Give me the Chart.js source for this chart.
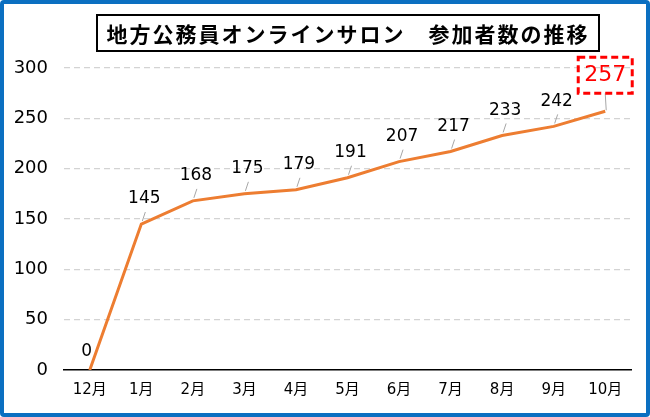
<!DOCTYPE html>
<html>
<head>
<meta charset="utf-8">
<script src="https://cdn.jsdelivr.net/npm/chart.js@4.4.1/dist/chart.umd.min.js"></script>
<style>
  html, body { margin: 0; padding: 0; background: #fff; }
  #frame {
    position: absolute; left: 0; top: 0;
    width: 642px; height: 409px;
    border: 4px solid #0b6fc1; border-radius: 4px;
    background: #fff;
  }
  #title {
    position: absolute; left: 92px; top: 10px;
    width: 500px; height: 34px;
    border: 2px solid #000;
    font: bold 21px "Noto Sans CJK JP", sans-serif;
    line-height: 34px; text-align: center; color: #000;
    letter-spacing: 2px; white-space: nowrap;
  }
  canvas { position: absolute; left: 0; top: 0; }
</style>
</head>
<body>
<div id="frame"><canvas id="lineChart" width="642" height="409"></canvas><div id="title">地方公務員オンラインサロン　参加者数の推移</div></div>
<script>
(function () {
    "use strict";

    // ---- data ----
    const months  = ["12月", "1月", "2月", "3月", "4月", "5月", "6月", "7月", "8月", "9月", "10月"];
    const members = [0, 145, 168, 175, 179, 191, 207, 217, 233, 242, 257];
    const yTicks  = [0, 50, 100, 150, 200, 250, 300];

    const COLORS = {
        line:   "#ed7d31",
        grid:   "#d3d3d3",
        leader: "#a6a6a6",
        text:   "#000000",
        hi:     "#ff0000",
    };
    const FONT = "'DejaVu Sans', 'Noto Sans CJK JP', sans-serif";

    // labels above each point, with a short gray leader line
    const labelPlugin = {
        id: "pointLabels",
        afterDatasetsDraw(chart) {
            const ctx = chart.ctx;
            const meta = chart.getDatasetMeta(0);
            const last = members.length - 1;
            ctx.save();
            ctx.textAlign = "center";
            ctx.textBaseline = "middle";
            meta.data.forEach((pt, i) => {
                const x = pt.x, y = pt.y;
                if (i === last) {
                    // highlighted last value
                    ctx.strokeStyle = COLORS.leader;
                    ctx.lineWidth = 1;
                    ctx.beginPath();
                    ctx.moveTo(x + 1, y - 1);
                    ctx.lineTo(x, y - 18);
                    ctx.stroke();
                    ctx.strokeStyle = COLORS.hi;
                    ctx.lineWidth = 3;
                    ctx.setLineDash([7, 4]);
                    ctx.strokeRect(x - 27, y - 54, 54, 36);
                    ctx.setLineDash([]);
                    ctx.fillStyle = COLORS.hi;
                    ctx.font = "22px " + FONT;
                    ctx.fillText(members[i], x, y - 36);
                    return;
                }
                ctx.fillStyle = COLORS.text;
                ctx.font = "17px " + FONT;
                if (i === 0) {
                    ctx.fillText(members[i], x - 3, y - 18);
                    return;
                }
                ctx.strokeStyle = COLORS.leader;
                ctx.lineWidth = 1;
                ctx.beginPath();
                ctx.moveTo(x + 1, y - 3);
                ctx.lineTo(x + 4, y - 12);
                ctx.stroke();
                ctx.fillText(members[i], x + 3, y - 25);
            });
            ctx.restore();
        },
    };

    new Chart(document.getElementById("lineChart"), {
        type: "line",
        data: {
            labels: months,
            datasets: [{
                data: members,
                borderColor: COLORS.line,
                borderWidth: 3,
                pointRadius: 0,
                tension: 0,
                fill: false,
            }],
        },
        options: {
            responsive: false,
            animation: false,
            layout: { padding: { top: 64, right: 15, left: 0, bottom: 3 } },
            plugins: { legend: { display: false }, tooltip: { enabled: false }, title: { display: false } },
            scales: {
                x: {
                    offset: true,
                    grid: { display: false, drawTicks: false },
                    border: { display: true, color: "#000", width: 1.5 },
                    ticks: { color: COLORS.text, font: { family: FONT, size: 15 }, padding: 11 },
                },
                y: {
                    min: 0, max: 300,
                    afterBuildTicks(axis) { axis.ticks = yTicks.map(v => ({ value: v })); },
                    afterFit(axis) { axis.width = 60; },
                    grid: {
                        color: (c) => c.tick && c.tick.value === 0 ? "rgba(0,0,0,0)" : COLORS.grid,
                        lineWidth: 1.2,
                        drawTicks: false,
                    },
                    border: { display: false, dash: [6, 4] },
                    ticks: { color: COLORS.text, font: { family: FONT, size: 18 }, padding: 16 },
                },
            },
        },
        plugins: [labelPlugin],
    });
})();
</script>
</body>
</html>
